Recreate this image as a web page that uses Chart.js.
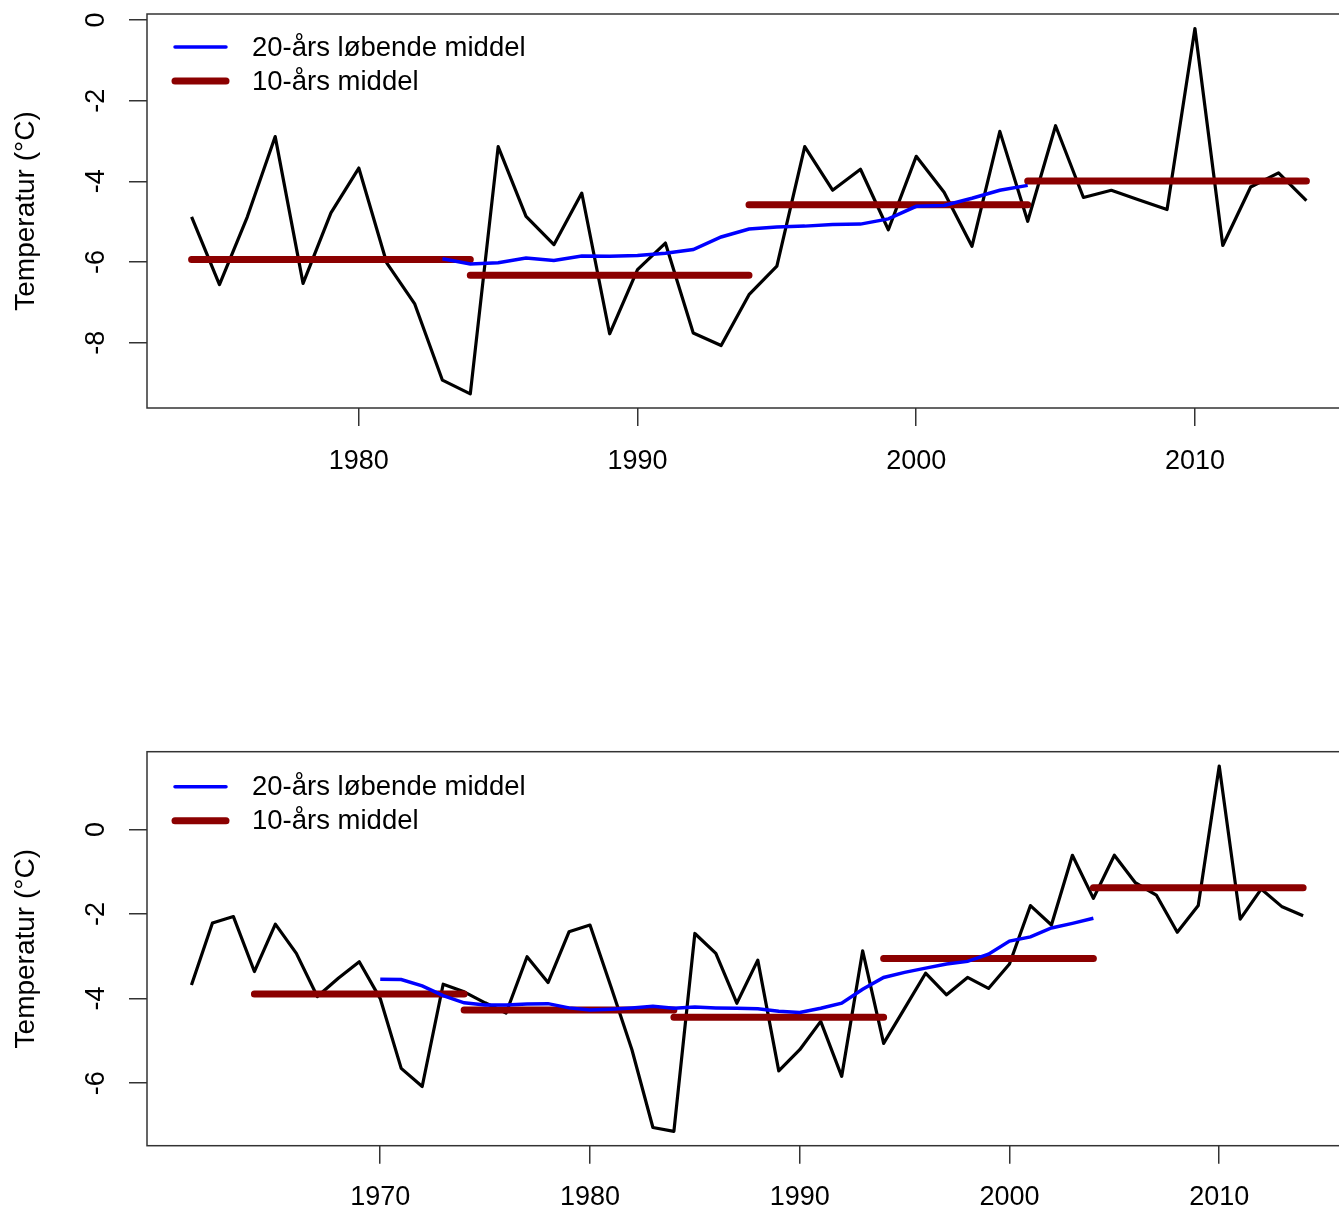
<!DOCTYPE html>
<html>
<head>
<meta charset="utf-8">
<script src="https://cdn.jsdelivr.net/npm/chart.js@4.4.1/dist/chart.umd.min.js"></script>
<style>
  html, body { margin: 0; padding: 0; background: #fff; overflow: hidden; }
  canvas { position: absolute; left: 0; }
  #chartTop { top: 0; }
  #chartBottom { top: 735px; }
</style>
</head>
<body>
<canvas id="chartTop" width="1352" height="500"></canvas>
<canvas id="chartBottom" width="1352" height="476"></canvas>
<script>
// ---- øverste panel: 1974-2014 ----
const yearsA = [1974, 1975, 1976, 1977, 1978, 1979, 1980, 1981, 1982, 1983, 1984, 1985, 1986, 1987,
  1988, 1989, 1990, 1991, 1992, 1993, 1994, 1995, 1996, 1997, 1998, 1999, 2000, 2001, 2002, 2003,
  2004, 2005, 2006, 2007, 2008, 2009, 2010, 2011, 2012, 2013, 2014];
const tempA = [-4.88, -6.56, -4.88, -2.89, -6.53, -4.78, -3.67, -6.02, -7.03, -8.93, -9.27, -3.14, -4.87, -5.57,
  -4.29, -7.78, -6.19, -5.53, -7.76, -8.07, -6.81, -6.10, -3.14, -4.22, -3.70, -5.20, -3.38, -4.27, -5.61, -2.76,
  -4.99, -2.62, -4.40, -4.22, -4.46, -4.70, -0.21, -5.59, -4.14, -3.79, -4.48];
const runYearsA = [1983, 1984, 1985, 1986, 1987, 1988, 1989, 1990, 1991, 1992, 1993, 1994, 1995, 1996,
  1997, 1998, 1999, 2000, 2001, 2002, 2003, 2004];
const runMeanA = [-5.92, -6.05, -6.02, -5.90, -5.96, -5.85, -5.86, -5.84, -5.78, -5.69, -5.38, -5.18, -5.13, -5.11,
  -5.07, -5.06, -4.93, -4.62, -4.60, -4.42, -4.22, -4.10];
const tenStartA = [1974, 1984, 1994, 2004];
const tenEndA = [1984, 1994, 2004, 2014];
const tenMeanA = [-5.94, -6.33, -4.58, -3.99];
const xTicksA = [1980, 1990, 2000, 2010];
const yTicksA = [0, -2, -4, -6, -8];

// ---- nederste panel: 1961-2014 ----
const yearsB = [1961, 1962, 1963, 1964, 1965, 1966, 1967, 1968, 1969, 1970, 1971, 1972, 1973, 1974,
  1975, 1976, 1977, 1978, 1979, 1980, 1981, 1982, 1983, 1984, 1985, 1986, 1987, 1988, 1989, 1990,
  1991, 1992, 1993, 1994, 1995, 1996, 1997, 1998, 1999, 2000, 2001, 2002, 2003, 2004, 2005, 2006,
  2007, 2008, 2009, 2010, 2011, 2012, 2013, 2014];
const tempB = [-3.68, -2.21, -2.06, -3.36, -2.24, -2.93, -3.95, -3.52, -3.13, -4.00, -5.65, -6.08, -3.66, -3.84,
  -4.10, -4.34, -3.01, -3.62, -2.42, -2.26, -3.72, -5.21, -7.05, -7.14, -2.46, -2.93, -4.11, -3.09, -5.71, -5.21,
  -4.54, -5.84, -2.87, -5.06, -4.23, -3.40, -3.91, -3.50, -3.76, -3.18, -1.80, -2.26, -0.61, -1.63, -0.61, -1.26,
  -1.55, -2.43, -1.80, 1.50, -2.12, -1.41, -1.83, -2.04];
const runYearsB = [1970, 1971, 1972, 1973, 1974, 1975, 1976, 1977, 1978, 1979, 1980, 1981, 1982, 1983,
  1984, 1985, 1986, 1987, 1988, 1989, 1990, 1991, 1992, 1993, 1994, 1995, 1996, 1997, 1998, 1999,
  2000, 2001, 2002, 2003, 2004];
const runMeanB = [-3.54, -3.55, -3.70, -3.93, -4.10, -4.15, -4.15, -4.13, -4.12, -4.22, -4.27, -4.25, -4.22, -4.18,
  -4.23, -4.20, -4.22, -4.23, -4.24, -4.30, -4.33, -4.23, -4.11, -3.78, -3.50, -3.38, -3.28, -3.18, -3.12, -2.95,
  -2.64, -2.54, -2.33, -2.22, -2.10];
const tenStartB = [1964, 1974, 1984, 1994, 2004];
const tenEndB = [1974, 1984, 1994, 2004, 2014];
const tenMeanB = [-3.89, -4.27, -4.44, -3.05, -1.38];
const xTicksB = [1970, 1980, 1990, 2000, 2010];
const yTicksB = [0, -2, -4, -6];

const FONT = '"Liberation Sans", Arial, sans-serif';

function toPoints(xs, ys) {
  return xs.map((x, i) => ({ x: x, y: ys[i] }));
}

// vandrette stykker, brudt med null imellem
function segments(starts, ends, means) {
  const pts = [];
  starts.forEach((s, i) => {
    if (i > 0) pts.push({ x: s, y: null });
    pts.push({ x: s, y: means[i] }, { x: ends[i], y: means[i] });
  });
  return pts;
}

// ramme om plotområdet
const boxPlugin = {
  id: 'box',
  afterDatasetsDraw(chart) {
    const a = chart.chartArea;
    const ctx = chart.ctx;
    ctx.save();
    ctx.strokeStyle = '#333';
    ctx.lineWidth = 1.5;
    ctx.strokeRect(a.left, a.top, a.right - a.left, a.bottom - a.top);
    ctx.restore();
  }
};

// R-agtig forklaring inde i plottet
const legendPlugin = {
  id: 'rlegend',
  afterDraw(chart, args, opts) {
    const a = chart.chartArea;
    const ctx = chart.ctx;
    ctx.save();
    ctx.font = '27.5px ' + FONT;
    ctx.textBaseline = 'middle';
    ctx.fillStyle = '#000';
    opts.rows.forEach((row, i) => {
      const ds = chart.data.datasets[i];
      const y = a.top + row;
      ctx.strokeStyle = ds.borderColor;
      ctx.lineWidth = ds.borderWidth;
      ctx.lineCap = 'round';
      ctx.beginPath();
      ctx.moveTo(a.left + 28, y);
      ctx.lineTo(a.left + 79, y);
      ctx.stroke();
      ctx.fillText(ds.label, a.left + 105, y + 1);
    });
    ctx.restore();
  }
};

function makeChart(id, p) {
  const tickFont = { size: 27, family: FONT };
  return new Chart(document.getElementById(id), {
    type: 'line',
    data: {
      datasets: [
        {
          label: '20-års løbende middel',
          data: toPoints(p.runYears, p.runMean),
          borderColor: '#0000ff',
          borderWidth: 3.5,
          pointRadius: 0,
          tension: 0
        },
        {
          label: '10-års middel',
          data: segments(p.tenStart, p.tenEnd, p.tenMean),
          borderColor: '#8b0000',
          borderWidth: 7,
          borderCapStyle: 'round',
          pointRadius: 0,
          spanGaps: false
        },
        {
          data: toPoints(p.years, p.temp),
          borderColor: '#000',
          borderWidth: 3.2,
          borderJoinStyle: 'round',
          pointRadius: 0,
          tension: 0
        }
      ]
    },
    options: {
      responsive: false,
      animation: false,
      layout: { padding: { top: p.padTop, right: p.padRight, left: 0, bottom: 0 } },
      plugins: {
        legend: { display: false },
        tooltip: { enabled: false },
        rlegend: { rows: p.legendRows }
      },
      scales: {
        x: {
          type: 'linear',
          min: p.xMin,
          max: p.xMax,
          afterBuildTicks: s => { s.ticks = p.xTicks.map(v => ({ value: v })); },
          afterFit: s => { s.height = p.xAxisH; s.paddingLeft = 0; s.paddingRight = 0; },
          grid: { drawOnChartArea: false, tickLength: 18, color: '#333', lineWidth: 1.5 },
          border: { display: false },
          ticks: { font: tickFont, color: '#000', padding: p.xPad, maxRotation: 0, autoSkip: false, callback: v => String(v) }
        },
        y: {
          type: 'linear',
          min: p.yMin,
          max: p.yMax,
          afterBuildTicks: s => { s.ticks = p.yTicks.map(v => ({ value: v })); },
          afterFit: s => { s.width = 147; s.paddingTop = 0; s.paddingBottom = 0; },
          grid: { drawOnChartArea: false, tickLength: 18, color: '#333', lineWidth: 1.5 },
          border: { display: false },
          ticks: { font: tickFont, color: '#000', padding: 20, minRotation: 90, maxRotation: 90, crossAlign: 'center', autoSkip: false, callback: v => String(v) },
          title: { display: true, text: 'Temperatur (°C)', color: '#000', font: { size: 28, family: FONT }, padding: { top: 9, bottom: 0 } }
        }
      }
    },
    plugins: [boxPlugin, legendPlugin]
  });
}

makeChart('chartTop', {
  years: yearsA, temp: tempA, runYears: runYearsA, runMean: runMeanA,
  tenStart: tenStartA, tenEnd: tenEndA, tenMean: tenMeanA,
  xTicks: xTicksA, yTicks: yTicksA,
  xMin: 1972.4, xMax: 2015.6, yMin: -9.62, yMax: 0.15,
  padTop: 14, padRight: 1, xAxisH: 92, xPad: 19, legendRows: [33, 67]
});

makeChart('chartBottom', {
  years: yearsB, temp: tempB, runYears: runYearsB, runMean: runMeanB,
  tenStart: tenStartB, tenEnd: tenEndB, tenMean: tenMeanB,
  xTicks: xTicksB, yTicks: yTicksB,
  xMin: 1958.88, xMax: 2016.12, yMin: -7.48, yMax: 1.84,
  padTop: 16.7, padRight: 4.4, xAxisH: 65.3, xPad: 18, legendRows: [35, 69]
});
</script>
</body>
</html>
